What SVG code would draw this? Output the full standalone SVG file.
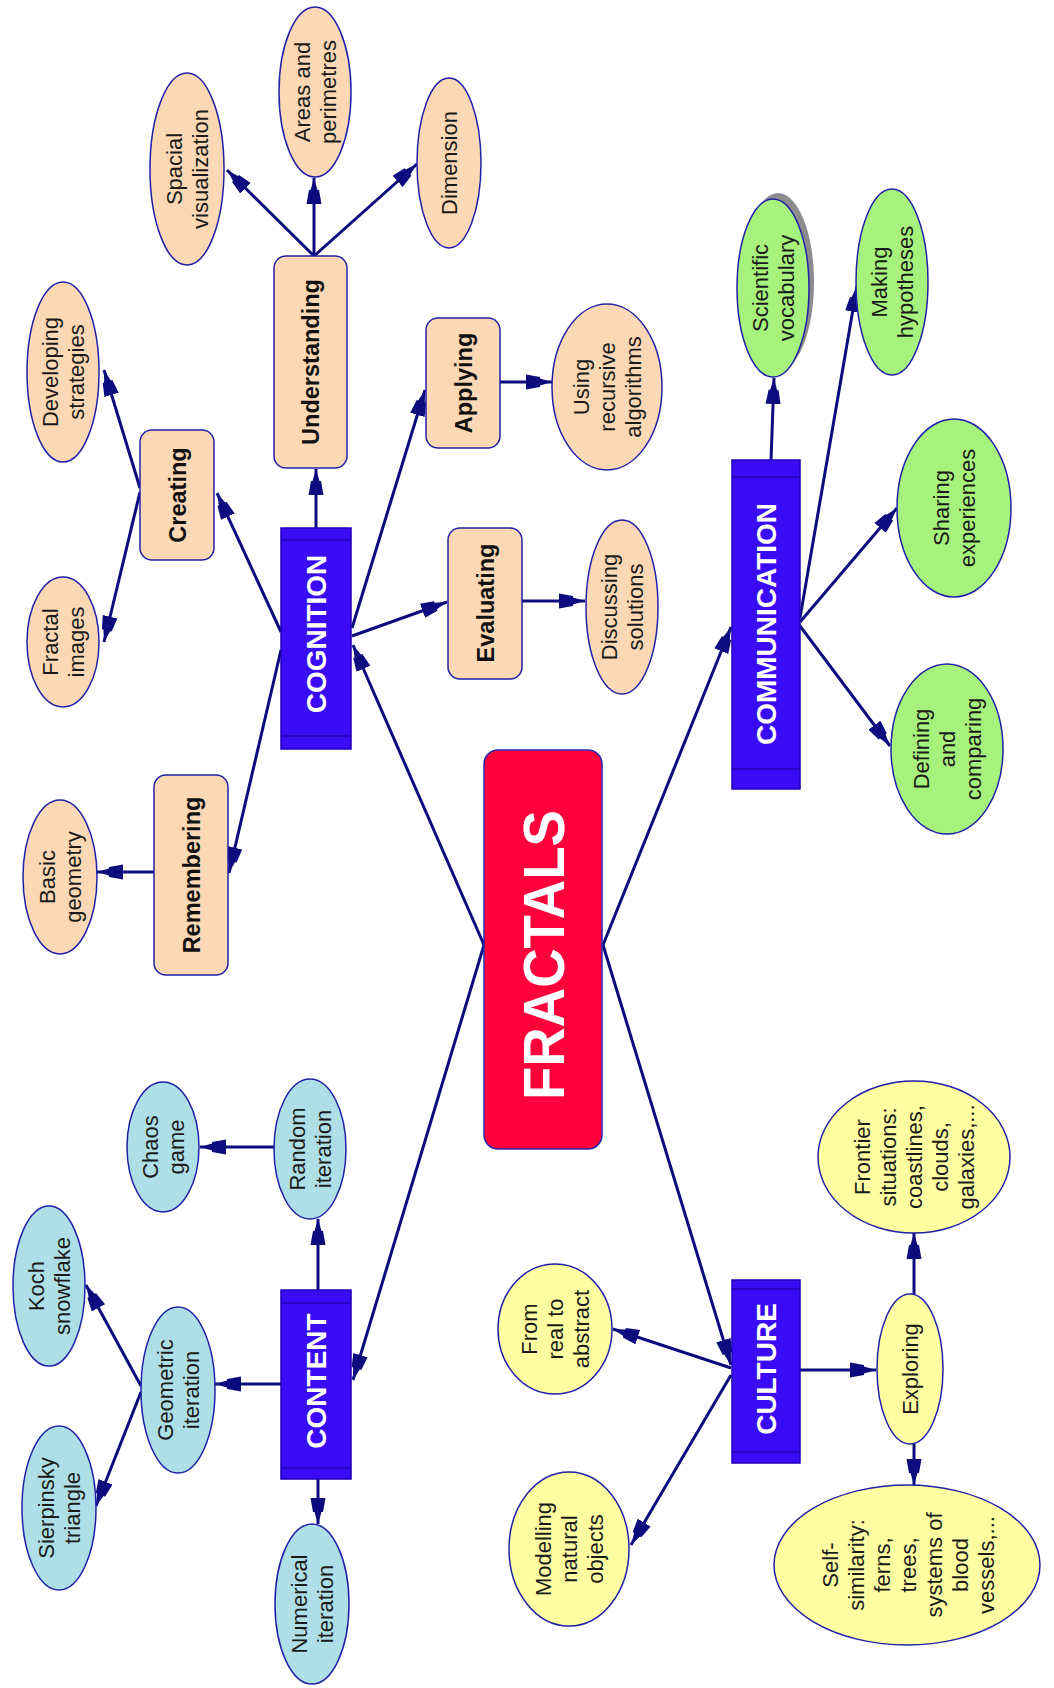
<svg xmlns="http://www.w3.org/2000/svg" width="1054" height="1688" viewBox="0 0 1054 1688">
<defs>
<marker id="ah" markerUnits="userSpaceOnUse" markerWidth="27" markerHeight="17" viewBox="0 0 27 16" refX="26" refY="8" orient="auto">
<path d="M26,8 L14,4.5 L14,3 L0,0.5 L0,15.5 L14,13 L14,11.5 Z" fill="#0c0c7e"/>
</marker>
<style>
.c line{stroke:#0c0c7e;stroke-width:3;fill:none;marker-end:url(#ah)}
.pe{fill:#fcd8b4;stroke:#2020a8;stroke-width:1.5}
.gr{fill:#a7f27c;stroke:#2020a8;stroke-width:1.5}
.lb{fill:#aedfe6;stroke:#2020a8;stroke-width:1.5}
.ye{fill:#ffffa2;stroke:#2020a8;stroke-width:1.5}
.bx{fill:#3a0cf5;stroke:#2000b8;stroke-width:1.5}
.bl{stroke:#2000b0;stroke-width:1.5}
.t{font-family:"Liberation Sans",Arial,sans-serif;font-size:22px;fill:#1a1a1a;text-anchor:middle}
.b{font-family:"Liberation Sans",Arial,sans-serif;font-size:23.5px;font-weight:bold;fill:#111;text-anchor:middle}
.w{font-family:"Liberation Sans",Arial,sans-serif;font-size:28px;font-weight:bold;fill:#ffffff;text-anchor:middle}
</style>
</defs>
<rect width="1054" height="1688" fill="#ffffff"/>

<g id="connectors" class="c">
<line x1="484" y1="945" x2="353" y2="645"/>
<line x1="484" y1="945" x2="353" y2="1380"/>
<line x1="603" y1="945" x2="731" y2="627"/>
<line x1="603" y1="945" x2="731" y2="1365"/>
<line x1="316" y1="528" x2="316" y2="469"/>
<line x1="281" y1="632" x2="217" y2="493"/>
<line x1="281" y1="650" x2="229" y2="873"/>
<line x1="352" y1="628" x2="425" y2="390"/>
<line x1="352" y1="636" x2="447" y2="602"/>
<line x1="140" y1="488" x2="104" y2="370"/>
<line x1="140" y1="492" x2="104" y2="642"/>
<line x1="314" y1="256" x2="227" y2="170"/>
<line x1="314" y1="256" x2="314" y2="178"/>
<line x1="314" y1="256" x2="417" y2="164"/>
<line x1="500" y1="382" x2="552" y2="382"/>
<line x1="522" y1="601" x2="585" y2="601"/>
<line x1="154" y1="872" x2="97" y2="872"/>
<line x1="771" y1="460" x2="774" y2="378"/>
<line x1="800" y1="618" x2="857" y2="286"/>
<line x1="800" y1="622" x2="897" y2="508"/>
<line x1="800" y1="626" x2="890" y2="746"/>
<line x1="731" y1="1368" x2="613" y2="1329"/>
<line x1="731" y1="1375" x2="631" y2="1545"/>
<line x1="800" y1="1370" x2="876" y2="1370"/>
<line x1="914" y1="1294" x2="914" y2="1233"/>
<line x1="914" y1="1443" x2="914" y2="1485"/>
<line x1="318" y1="1290" x2="318" y2="1219"/>
<line x1="281" y1="1384" x2="215" y2="1384"/>
<line x1="318" y1="1479" x2="318" y2="1524"/>
<line x1="274" y1="1147" x2="200" y2="1147"/>
<line x1="141" y1="1386" x2="86" y2="1285"/>
<line x1="141" y1="1392" x2="96" y2="1506"/>
</g>

<g id="fractals">
<rect x="484" y="750" width="118" height="399" rx="14" fill="#ff003c" stroke="#2a2ab0" stroke-width="1.5"/>
<text transform="translate(543 955) rotate(-90)" y="21" textLength="290" lengthAdjust="spacingAndGlyphs" style="font-family:'Liberation Sans',Arial,sans-serif;font-size:58px;font-weight:bold;fill:#fff;text-anchor:middle">FRACTALS</text>
</g>

<g id="cognition">
<rect class="bx" x="281" y="528" width="70" height="221"/>
<line class="bl" x1="281" y1="540" x2="351" y2="540"/>
<line class="bl" x1="281" y1="736" x2="351" y2="736"/>
<text class="w" transform="translate(316 634) rotate(-90)" y="10">COGNITION</text>
</g>
<g id="content">
<rect class="bx" x="281" y="1290" width="70" height="189"/>
<line class="bl" x1="281" y1="1303" x2="351" y2="1303"/>
<line class="bl" x1="281" y1="1468" x2="351" y2="1468"/>
<text class="w" transform="translate(316 1381) rotate(-90)" y="10">CONTENT</text>
</g>
<g id="communication">
<rect class="bx" x="732" y="460" width="68" height="329"/>
<line class="bl" x1="732" y1="477" x2="800" y2="477"/>
<line class="bl" x1="732" y1="769" x2="800" y2="769"/>
<text class="w" transform="translate(766 624) rotate(-90)" y="10">COMMUNICATION</text>
</g>
<g id="culture">
<rect class="bx" x="732" y="1280" width="68" height="183"/>
<line class="bl" x1="732" y1="1289" x2="800" y2="1289"/>
<line class="bl" x1="732" y1="1452" x2="800" y2="1452"/>
<text class="w" transform="translate(766 1369) rotate(-90)" y="10">CULTURE</text>
</g>

<g id="understanding">
<rect class="pe" x="274" y="256" width="73" height="212" rx="12"/>
<text class="b" transform="translate(310.5 362) rotate(-90)" y="8.5">Understanding</text>
</g>
<g id="creating">
<rect class="pe" x="140" y="430" width="74" height="130" rx="12"/>
<text class="b" transform="translate(177 495) rotate(-90)" y="8.5">Creating</text>
</g>
<g id="applying">
<rect class="pe" x="426" y="318" width="74" height="130" rx="12"/>
<text class="b" transform="translate(463 383) rotate(-90)" y="8.5">Applying</text>
</g>
<g id="evaluating">
<rect class="pe" x="448" y="528" width="74" height="151" rx="12"/>
<text class="b" transform="translate(485 603) rotate(-90)" y="8.5">Evaluating</text>
</g>
<g id="remembering">
<rect class="pe" x="154" y="775" width="74" height="200" rx="12"/>
<text class="b" transform="translate(191 875) rotate(-90)" y="8.5">Remembering</text>
</g>

<g id="spacial">
<ellipse class="pe" cx="187" cy="169" rx="37" ry="96"/>
<text class="t" transform="translate(187 169) rotate(-90)"><tspan x="0" y="-5">Spacial</tspan><tspan x="0" y="21">visualization</tspan></text>
</g>
<g id="areas">
<ellipse class="pe" cx="315" cy="92" rx="36" ry="85"/>
<text class="t" transform="translate(315 92) rotate(-90)"><tspan x="0" y="-5">Areas and</tspan><tspan x="0" y="21">perimetres</tspan></text>
</g>
<g id="dimension">
<ellipse class="pe" cx="449" cy="163" rx="32" ry="85"/>
<text class="t" transform="translate(449 163) rotate(-90)"><tspan x="0" y="8">Dimension</tspan></text>
</g>
<g id="developing">
<ellipse class="pe" cx="63" cy="372" rx="36" ry="90"/>
<text class="t" transform="translate(63 372) rotate(-90)"><tspan x="0" y="-5">Developing</tspan><tspan x="0" y="21">strategies</tspan></text>
</g>
<g id="fractal-images">
<ellipse class="pe" cx="63" cy="642" rx="36" ry="65"/>
<text class="t" transform="translate(63 642) rotate(-90)"><tspan x="0" y="-5">Fractal</tspan><tspan x="0" y="21">images</tspan></text>
</g>
<g id="basic">
<ellipse class="pe" cx="60" cy="877" rx="37" ry="77"/>
<text class="t" transform="translate(60 877) rotate(-90)"><tspan x="0" y="-5">Basic</tspan><tspan x="0" y="21">geometry</tspan></text>
</g>
<g id="using">
<ellipse class="pe" cx="607" cy="387" rx="55" ry="83"/>
<text class="t" transform="translate(607 387) rotate(-90)"><tspan x="0" y="-18">Using</tspan><tspan x="0" y="8">recursive</tspan><tspan x="0" y="34">algorithms</tspan></text>
</g>
<g id="discussing">
<ellipse class="pe" cx="622" cy="607" rx="36" ry="87"/>
<text class="t" transform="translate(622 607) rotate(-90)"><tspan x="0" y="-5">Discussing</tspan><tspan x="0" y="21">solutions</tspan></text>
</g>

<g id="scientific">
<ellipse cx="778" cy="282" rx="36" ry="89" fill="#8c8c8c"/>
<ellipse class="gr" cx="773" cy="288" rx="36" ry="89"/>
<text class="t" transform="translate(773 288) rotate(-90)"><tspan x="0" y="-5">Scientific</tspan><tspan x="0" y="21">vocabulary</tspan></text>
</g>
<g id="making">
<ellipse class="gr" cx="892" cy="282" rx="36" ry="93"/>
<text class="t" transform="translate(892 282) rotate(-90)"><tspan x="0" y="-5">Making</tspan><tspan x="0" y="21">hypotheses</tspan></text>
</g>
<g id="sharing">
<ellipse class="gr" cx="954" cy="508" rx="57" ry="89"/>
<text class="t" transform="translate(954 508) rotate(-90)"><tspan x="0" y="-5">Sharing</tspan><tspan x="0" y="21">experiences</tspan></text>
</g>
<g id="defining">
<ellipse class="gr" cx="947" cy="749" rx="56" ry="85"/>
<text class="t" transform="translate(947 749) rotate(-90)"><tspan x="0" y="-18">Defining</tspan><tspan x="0" y="8">and</tspan><tspan x="0" y="34">comparing</tspan></text>
</g>

<g id="chaos">
<ellipse class="lb" cx="163" cy="1147" rx="36" ry="65"/>
<text class="t" transform="translate(163 1147) rotate(-90)"><tspan x="0" y="-5">Chaos</tspan><tspan x="0" y="21">game</tspan></text>
</g>
<g id="random">
<ellipse class="lb" cx="310" cy="1149" rx="36" ry="70"/>
<text class="t" transform="translate(310 1149) rotate(-90)"><tspan x="0" y="-5">Random</tspan><tspan x="0" y="21">iteration</tspan></text>
</g>
<g id="koch">
<ellipse class="lb" cx="49" cy="1286" rx="36" ry="80"/>
<text class="t" transform="translate(49 1286) rotate(-90)"><tspan x="0" y="-5">Koch</tspan><tspan x="0" y="21">snowflake</tspan></text>
</g>
<g id="geometric">
<ellipse class="lb" cx="178" cy="1390" rx="37" ry="83"/>
<text class="t" transform="translate(178 1390) rotate(-90)"><tspan x="0" y="-5">Geometric</tspan><tspan x="0" y="21">iteration</tspan></text>
</g>
<g id="sierpinsky">
<ellipse class="lb" cx="59" cy="1508" rx="37" ry="82"/>
<text class="t" transform="translate(59 1508) rotate(-90)"><tspan x="0" y="-5">Sierpinsky</tspan><tspan x="0" y="21">triangle</tspan></text>
</g>
<g id="numerical">
<ellipse class="lb" cx="312" cy="1604" rx="37" ry="80"/>
<text class="t" transform="translate(312 1604) rotate(-90)"><tspan x="0" y="-5">Numerical</tspan><tspan x="0" y="21">iteration</tspan></text>
</g>

<g id="from-real">
<ellipse class="ye" cx="555" cy="1329" rx="57" ry="65"/>
<text class="t" transform="translate(555 1329) rotate(-90)"><tspan x="0" y="-18">From</tspan><tspan x="0" y="8">real to</tspan><tspan x="0" y="34">abstract</tspan></text>
</g>
<g id="modelling">
<ellipse class="ye" cx="569" cy="1549" rx="60" ry="77"/>
<text class="t" transform="translate(569 1549) rotate(-90)"><tspan x="0" y="-18">Modelling</tspan><tspan x="0" y="8">natural</tspan><tspan x="0" y="34">objects</tspan></text>
</g>
<g id="exploring">
<ellipse class="ye" cx="910" cy="1369" rx="33" ry="75"/>
<text class="t" transform="translate(910 1369) rotate(-90)"><tspan x="0" y="8">Exploring</tspan></text>
</g>
<g id="frontier">
<ellipse class="ye" cx="914" cy="1157" rx="96" ry="76"/>
<text class="t" transform="translate(914 1157) rotate(-90)"><tspan x="0" y="-44">Frontier</tspan><tspan x="0" y="-18">situations:</tspan><tspan x="0" y="8">coastlines,</tspan><tspan x="0" y="34">clouds,</tspan><tspan x="0" y="60">galaxies,...</tspan></text>
</g>
<g id="self-similarity">
<ellipse class="ye" cx="907" cy="1565" rx="133" ry="80"/>
<text class="t" transform="translate(908 1565) rotate(-90)"><tspan x="0" y="-70">Self-</tspan><tspan x="0" y="-44">similarity:</tspan><tspan x="0" y="-18">ferns,</tspan><tspan x="0" y="8">trees,</tspan><tspan x="0" y="34">systems of</tspan><tspan x="0" y="60">blood</tspan><tspan x="0" y="86">vessels,...</tspan></text>
</g>
</svg>
